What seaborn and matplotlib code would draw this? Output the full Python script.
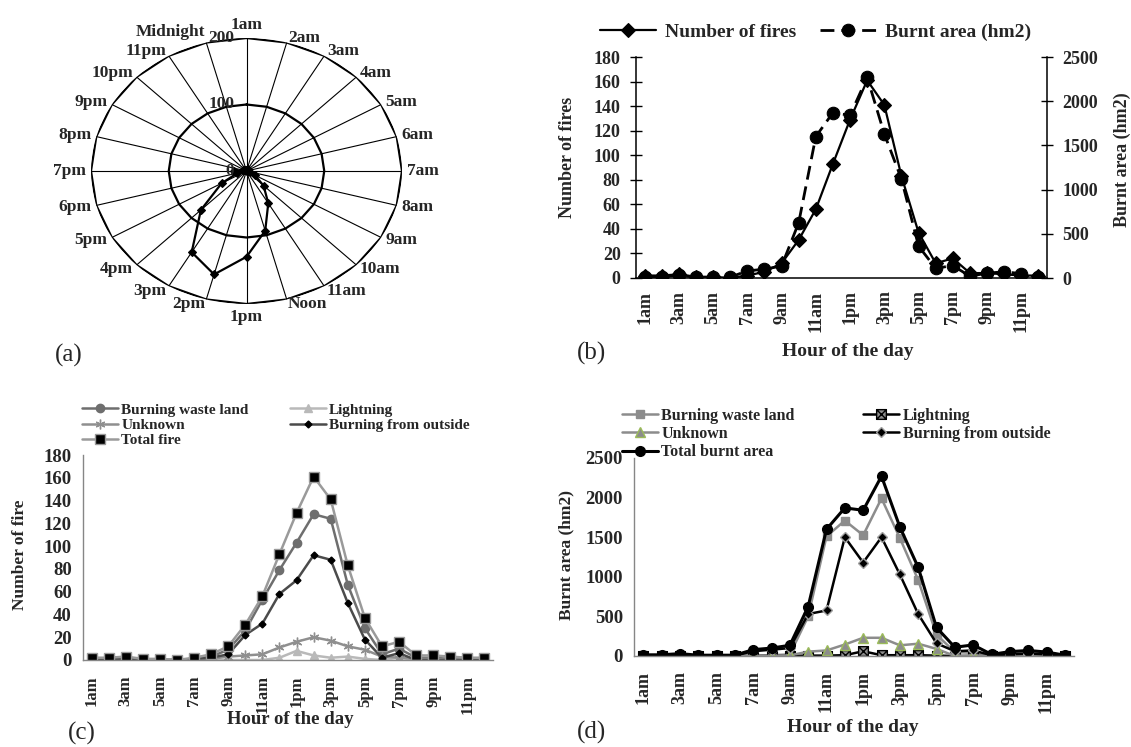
import numpy as np
import seaborn as sns
import matplotlib.pyplot as plt
from matplotlib.path import Path

# ---------------- data ----------------
hours = ['1am', '2am', '3am', '4am', '5am', '6am', '7am', '8am', '9am', '10am',
         '11am', 'Noon', '1pm', '2pm', '3pm', '4pm', '5pm', '6pm', '7pm', '8pm',
         '9pm', '10pm', '11pm', 'Midnight']

# number of fires per hour (a, b and total in c)
fires_total = [2, 2, 3, 1, 1, 0, 2, 5, 12, 31, 56, 93, 129, 161, 141, 83, 37, 12, 16, 4, 4, 3, 2, 2]
# burnt area per hour, hm2 (b and total in d)
area_total = [15, 15, 30, 10, 10, 10, 80, 100, 135, 625, 1600, 1870, 1840, 2270, 1630, 1120, 360, 110, 140, 20, 55, 70, 50, 10]

# number of fires by cause (c)
fires_waste = [1, 1, 1, 0, 0, 0, 1, 3, 9, 26, 53, 79, 103, 128, 124, 66, 28, 5, 10, 2, 2, 1, 1, 1]
fires_lightning = [0, 0, 0, 0, 0, 0, 0, 0, 0, 0, 0, 2, 8, 4, 2, 3, 1, 0, 2, 0, 0, 0, 0, 0]
fires_unknown = [0, 0, 0, 0, 0, 0, 0, 1, 3, 4, 5, 11, 16, 20, 17, 12, 9, 3, 2, 1, 1, 0, 0, 0]
fires_outside = [1, 1, 1, 0, 0, 0, 1, 2, 5, 22, 32, 58, 70, 92, 88, 50, 18, 2, 6, 0, 0, 0, 0, 0]

# burnt area by cause (d)
area_waste = [0, 0, 0, 0, 0, 0, 5, 10, 20, 500, 1510, 1710, 1525, 1990, 1490, 960, 270, 50, 40, 10, 30, 40, 30, 5]
area_lightning = [0, 0, 0, 0, 0, 0, 0, 0, 2, 5, 5, 10, 60, 10, 10, 10, 5, 0, 0, 0, 0, 0, 0, 0]
area_unknown = [0, 0, 0, 0, 0, 0, 0, 0, 8, 55, 70, 145, 230, 230, 135, 155, 90, 0, 8, 0, 0, 0, 0, 0]
area_outside = [5, 5, 10, 5, 5, 5, 60, 80, 100, 530, 575, 1500, 1180, 1500, 1030, 530, 160, 60, 70, 10, 20, 30, 20, 5]

radar_ticks = [0, 100, 200]
fire_ticks = list(range(0, 181, 20))
area_ticks = list(range(0, 2501, 500))

# ---------------- style ----------------
sns.set_style('white')
plt.rcParams['font.family'] = ['Liberation Serif', 'DejaVu Serif']
plt.rcParams['font.weight'] = 'bold'
plt.rcParams['axes.labelweight'] = 'bold'

W, H = 1131, 747
fig = plt.figure(figsize=(W / 100, H / 100), dpi=100)


def box(x0, y0, x1, y1):
    # pixel box (top-left origin) -> figure fraction rect
    return [x0 / W, 1 - y1 / H, (x1 - x0) / W, (y1 - y0) / H]


def fxy(x, y):
    return x / W, 1 - y / H


def hour_axis(ax, labelsize, pad, minor_kw):
    pos = np.arange(len(hours))
    ax.set_xlim(-0.5, len(hours) - 0.5)
    ax.set_xticks(pos[::2], hours[::2])
    ax.set_xticks(np.arange(len(hours) + 1) - 0.5, minor=True)
    ax.tick_params(axis='x', which='major', length=0, pad=pad, rotation=90, labelsize=labelsize)
    ax.tick_params(axis='x', which='minor', **minor_kw)


# ---------------- (a) radar ----------------
ax_a = fig.add_axes(box(91, 38, 402, 304), projection='polar')
ax_a.set_aspect('auto')
ax_a.set_theta_offset(np.pi / 2)
ax_a.set_theta_direction(-1)
theta = np.linspace(0, 2 * np.pi, len(hours), endpoint=False)
ax_a.set_ylim(0, 200)
ax_a.set_xticks(theta)
ax_a.set_xticklabels([])
ax_a.set_yticks([])
ax_a.xaxis.grid(True, color='black', linewidth=0.8)
ax_a.spines['polar'].set_visible(False)
for lvl in radar_ticks[1:]:
    ax_a.plot(np.append(theta, theta[0]), [lvl] * (len(hours) + 1), color='black', linewidth=1.6)
sns.lineplot(x=theta, y=fires_total, ax=ax_a, sort=False, legend=False, color='black',
             linewidth=1.6, marker='D', markersize=4, markeredgecolor='black', markeredgewidth=0.8)
ax_a.set_xlabel('')
ax_a.set_ylabel('')
for ang, lab in zip(theta, hours):
    s, c = np.sin(ang), np.cos(ang)
    ha = 'left' if s > 0.2 else 'right' if s < -0.2 else 'center'
    va = 'bottom' if c > 0.99 else 'top' if c < -0.99 else 'center'
    lift = 6 if lab == 'Midnight' else 0   # keep clear of the 11pm label
    ax_a.annotate(lab, (ang, 200), xytext=(5 * s, 5 * c + lift), textcoords='offset pixels',
                  ha=ha, va=va, fontsize=12.5, annotation_clip=False)
for r in radar_ticks:
    ax_a.annotate(str(r), (0, r), xytext=(-12, 0), textcoords='offset pixels',
                  ha='right', va='center', fontsize=12.5, annotation_clip=False)

# ---------------- (b) fires and burnt area ----------------
ax_b = fig.add_axes(box(636, 57, 1047, 278))
sns.lineplot(x=hours, y=fires_total, ax=ax_b, sort=False, legend=False, color='black',
             linewidth=1.6, marker='D', markersize=7, markeredgecolor='black',
             markeredgewidth=0.8, label='Number of fires')
ax_b2 = ax_b.twinx()
sns.lineplot(x=hours, y=area_total, ax=ax_b2, sort=False, legend=False, color='black',
             linewidth=2, linestyle=(0, (5, 2.5)), marker='o', markersize=9,
             markeredgecolor='black', markeredgewidth=0.8, label='Burnt area (hm2)')
ax_b.set_ylim(0, 180)
ax_b.set_yticks(fire_ticks)
ax_b2.set_ylim(0, 2500)
ax_b2.set_yticks(area_ticks)
hour_axis(ax_b, 13, 9, dict(direction='inout', length=8, width=1, color='black'))
for a in (ax_b, ax_b2):
    a.tick_params(axis='y', direction='inout', length=8, width=1, pad=7, labelsize=13, color='black')
    a.spines['top'].set_visible(False)
for side in ('left', 'bottom'):
    ax_b2.spines[side].set_visible(False)
ax_b.spines['right'].set_visible(False)
for sp in list(ax_b.spines.values()) + list(ax_b2.spines.values()):
    sp.set_color('black')
    sp.set_linewidth(1.1)
ax_b.set_xlabel('Hour of the day', fontsize=14, va='center')
ax_b.xaxis.set_label_coords(*fxy(848, 352), transform=fig.transFigure)
ax_b.set_ylabel('Number of fires', fontsize=13, va='center')
ax_b.yaxis.set_label_coords(*fxy(567, 157), transform=fig.transFigure)
ax_b2.set_ylabel('Burnt area (hm2)', fontsize=13, rotation=90, va='center')
ax_b2.yaxis.set_label_coords(*fxy(1122, 160), transform=fig.transFigure)
h1, l1 = ax_b.get_legend_handles_labels()
h2, l2 = ax_b2.get_legend_handles_labels()
fig.legend(h1 + h2, l1 + l2, loc='center left', bbox_to_anchor=fxy(600, 32), ncol=2,
           frameon=False, borderpad=0, borderaxespad=0, handlelength=2.9,
           handletextpad=0.45, columnspacing=1.2, fontsize=14)


# ---------------- (c) and (d) by cause ----------------
def cause_axes(ax, ylim, yticks, ylabel, xsize):
    ax.set_ylim(*ylim)
    ax.set_yticks(yticks)
    hour_axis(ax, xsize, 11, dict(direction='out', length=4, width=1, color='#868686'))
    ax.tick_params(axis='y', direction='out', length=4, width=1, color='#868686', pad=4, labelsize=13.5)
    for side in ('top', 'right'):
        ax.spines[side].set_visible(False)
    for side in ('left', 'bottom'):
        ax.spines[side].set_color('#868686')
        ax.spines[side].set_linewidth(1)
    ax.set_xlabel('Hour of the day', fontsize=13.5, va='center')
    ax.set_ylabel(ylabel, fontsize=12.5, va='center')


ax_c = fig.add_axes(box(83, 455, 493, 660))
c_series = [
    ('Burning waste land', fires_waste, dict(color='#6e6e6e', marker='o', markersize=6,
                                              markerfacecolor='#6e6e6e', markeredgecolor='#6e6e6e')),
    ('Lightning', fires_lightning, dict(color='#b9b9b9', marker='^', markersize=6,
                                        markerfacecolor='#b9b9b9', markeredgecolor='#b9b9b9')),
    ('Unknown', fires_unknown, dict(color='#8f8f8f', marker=(6, 2, 0), markersize=7,
                                    markeredgecolor='#8f8f8f')),
    ('Burning from outside', fires_outside, dict(color='#4b4b4b', marker='D', markersize=3.5,
                                                 markerfacecolor='black', markeredgecolor='black')),
    ('Total fire', fires_total, dict(color='#9a9a9a', marker='s', markersize=6.5,
                                     markerfacecolor='black', markeredgecolor='#9a9a9a')),
]
for lab, vals, kw in c_series:
    sns.lineplot(x=hours, y=vals, ax=ax_c, sort=False, legend=False, label=lab,
                 linewidth=1.8, markeredgewidth=1, **kw)
cause_axes(ax_c, (0, 180), fire_ticks, 'Number of fire', 12)
ax_c.xaxis.set_label_coords(*fxy(290, 720), transform=fig.transFigure)
ax_c.yaxis.set_label_coords(*fxy(20, 555), transform=fig.transFigure)
hc, lc = ax_c.get_legend_handles_labels()
order = [0, 2, 4, 1, 3]
ax_c.legend([hc[i] for i in order], [lc[i] for i in order], loc='upper left',
            bbox_to_anchor=fxy(82, 403), bbox_transform=fig.transFigure, ncol=2,
            frameon=False, borderpad=0, borderaxespad=0, handlelength=2.35,
            handletextpad=0.22, columnspacing=2.7, labelspacing=0.1, fontsize=11)

xbox = Path([(-1, -1), (1, -1), (1, 1), (-1, 1), (-1, -1), (-1, -1), (1, 1), (-1, 1), (1, -1)],
            [Path.MOVETO, Path.LINETO, Path.LINETO, Path.LINETO, Path.CLOSEPOLY,
             Path.MOVETO, Path.LINETO, Path.MOVETO, Path.LINETO])

ax_d = fig.add_axes(box(634, 458, 1074, 656))
d_series = [
    ('Burning waste land', area_waste, dict(color='#8c8c8c', marker='s', markersize=6,
                                             markerfacecolor='#8c8c8c', markeredgecolor='#8c8c8c', linewidth=1.8)),
    ('Lightning', area_lightning, dict(color='black', marker=xbox, markersize=7,
                                       markerfacecolor='#8c8c8c', markeredgecolor='black', linewidth=1.8)),
    ('Unknown', area_unknown, dict(color='#8c8c8c', marker='^', markersize=7,
                                   markerfacecolor='#8c8c8c', markeredgecolor='#9bbb59', linewidth=1.8)),
    ('Burning from outside', area_outside, dict(color='black', marker='D', markersize=5,
                                                markerfacecolor='black', markeredgecolor='#a0a0a0', linewidth=1.8)),
    ('Total burnt area', area_total, dict(color='black', marker='o', markersize=7,
                                          markerfacecolor='black', markeredgecolor='black', linewidth=2.2)),
]
for lab, vals, kw in d_series:
    sns.lineplot(x=hours, y=vals, ax=ax_d, sort=False, legend=False, label=lab,
                 markeredgewidth=1, **kw)
cause_axes(ax_d, (0, 2500), area_ticks, 'Burnt area (hm2)', 13)
ax_d.set_xlabel('Hour of the day', fontsize=14, va='center')
ax_d.xaxis.set_label_coords(*fxy(853, 727), transform=fig.transFigure)
ax_d.yaxis.set_label_coords(*fxy(566, 555), transform=fig.transFigure)
hd, ld = ax_d.get_legend_handles_labels()
ax_d.legend([hd[i] for i in order], [ld[i] for i in order], loc='upper left',
            bbox_to_anchor=fxy(622, 408), bbox_transform=fig.transFigure, ncol=2,
            frameon=False, borderpad=0, borderaxespad=0, handlelength=2.24,
            handletextpad=0.22, columnspacing=4.3, labelspacing=0.13, fontsize=11.5)

# panel letters
for lab, x, y in [('(a)', 55, 355), ('(b)', 577, 353), ('(c)', 68, 733), ('(d)', 577, 732)]:
    fig.text(*fxy(x, y), lab, fontsize=18, fontweight='normal', ha='left', va='center')

fig.savefig('out.png', dpi=100)
